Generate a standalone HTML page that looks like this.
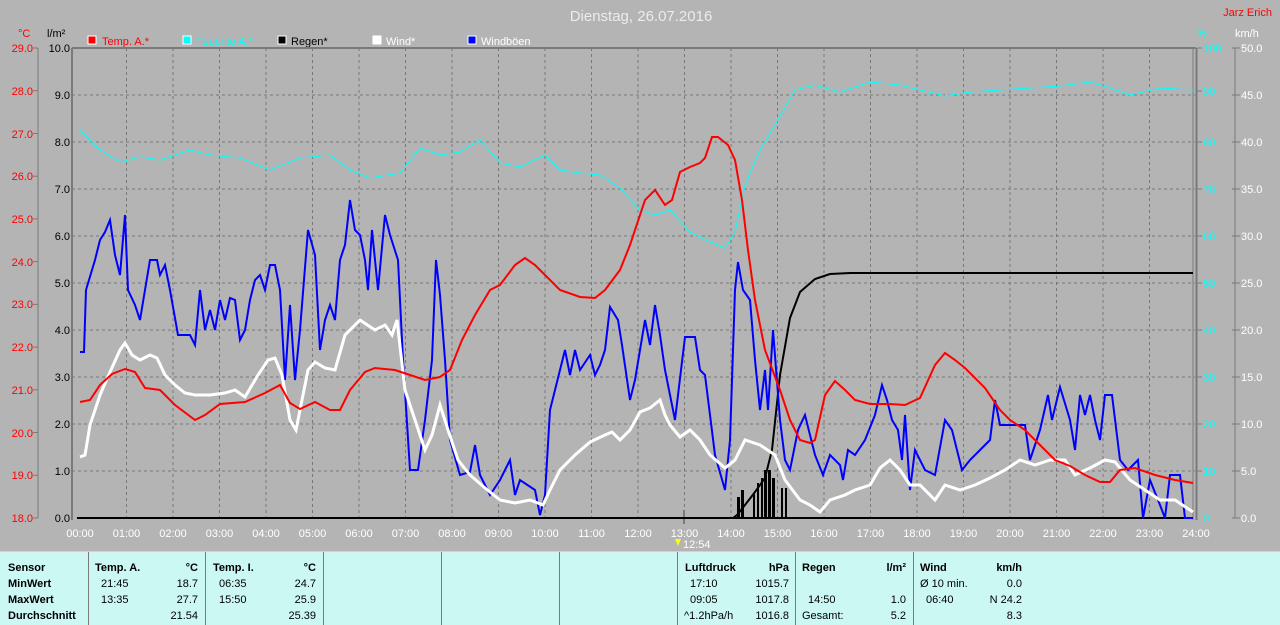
<!DOCTYPE html>
<html><head><meta charset="utf-8"><style>
body{margin:0;background:#b4b4b4;}
svg{display:block;font-family:"Liberation Sans",sans-serif;}
</style></head><body>
<svg width="1280" height="625" viewBox="0 0 1280 625" xmlns="http://www.w3.org/2000/svg">
<rect width="1280" height="625" fill="#b4b4b4"/>
<text x="641" y="21" font-size="15" fill="#ececec" text-anchor="middle">Dienstag, 26.07.2016</text>
<text x="1272" y="16" font-size="11" fill="#ff0000" text-anchor="end">Jarz Erich</text>
<!-- legend -->
<g font-size="11">
<rect x="88" y="36" width="8" height="8" fill="#f00" stroke="#fff"/><text x="102" y="45" fill="#f00">Temp. A.*</text>
<rect x="183" y="36" width="8" height="8" fill="#0ff" stroke="#fff"/><text x="196" y="45" fill="#0ff">Feuchte A.*</text>
<rect x="278" y="36" width="8" height="8" fill="#000" stroke="#fff"/><text x="291" y="45" fill="#000">Regen*</text>
<rect x="373" y="36" width="8" height="8" fill="#fff" stroke="#fff"/><text x="386" y="45" fill="#fff">Wind*</text>
<rect x="468" y="36" width="8" height="8" fill="#00f" stroke="#fff"/><text x="481" y="45" fill="#fff">Windböen</text>
</g>
<text x="18" y="37" font-size="11" fill="#f00">°C</text>
<text x="47" y="37" font-size="11" fill="#000">l/m²</text>
<text x="1197" y="37" font-size="11" fill="#0ff">%</text>
<text x="1235" y="37" font-size="11" fill="#fff">km/h</text>
<!-- grid -->
<g stroke="#777" stroke-dasharray="3,3" stroke-width="1">
<line x1="72" y1="95" x2="1195" y2="95"/><line x1="72" y1="142" x2="1195" y2="142"/><line x1="72" y1="189" x2="1195" y2="189"/><line x1="72" y1="236" x2="1195" y2="236"/><line x1="72" y1="283" x2="1195" y2="283"/><line x1="72" y1="330" x2="1195" y2="330"/><line x1="72" y1="377" x2="1195" y2="377"/><line x1="72" y1="424" x2="1195" y2="424"/><line x1="72" y1="471" x2="1195" y2="471"/>
<line x1="126.5" y1="48" x2="126.5" y2="518"/><line x1="173" y1="48" x2="173" y2="518"/><line x1="219.5" y1="48" x2="219.5" y2="518"/><line x1="266" y1="48" x2="266" y2="518"/><line x1="312.5" y1="48" x2="312.5" y2="518"/><line x1="359" y1="48" x2="359" y2="518"/><line x1="405.5" y1="48" x2="405.5" y2="518"/><line x1="452" y1="48" x2="452" y2="518"/><line x1="498.5" y1="48" x2="498.5" y2="518"/><line x1="545" y1="48" x2="545" y2="518"/><line x1="591.5" y1="48" x2="591.5" y2="518"/><line x1="638" y1="48" x2="638" y2="518"/><line x1="684.5" y1="48" x2="684.5" y2="518"/><line x1="731" y1="48" x2="731" y2="518"/><line x1="777.5" y1="48" x2="777.5" y2="518"/><line x1="824" y1="48" x2="824" y2="518"/><line x1="870.5" y1="48" x2="870.5" y2="518"/><line x1="917" y1="48" x2="917" y2="518"/><line x1="963.5" y1="48" x2="963.5" y2="518"/><line x1="1010" y1="48" x2="1010" y2="518"/><line x1="1056.5" y1="48" x2="1056.5" y2="518"/><line x1="1103" y1="48" x2="1103" y2="518"/><line x1="1149.5" y1="48" x2="1149.5" y2="518"/>
</g>
<!-- borders / axes -->
<g stroke="#7a7a7a" fill="none">
<line x1="72" y1="48" x2="1196" y2="48" stroke-width="2"/>
<line x1="72" y1="48" x2="72" y2="520" stroke-width="2"/>
<line x1="1193" y1="48" x2="1193" y2="520" stroke-width="1"/>
<line x1="1196.5" y1="48" x2="1196.5" y2="520" stroke-width="2"/>
<line x1="38" y1="48" x2="38" y2="518"/>
<line x1="1235" y1="48" x2="1235" y2="518"/>
</g>
<g stroke="#7a7a7a">
<line x1="33" y1="48" x2="38" y2="48"/><line x1="33" y1="90.7" x2="38" y2="90.7"/><line x1="33" y1="133.5" x2="38" y2="133.5"/><line x1="33" y1="176.2" x2="38" y2="176.2"/><line x1="33" y1="218.9" x2="38" y2="218.9"/><line x1="33" y1="261.6" x2="38" y2="261.6"/><line x1="33" y1="304.4" x2="38" y2="304.4"/><line x1="33" y1="347.1" x2="38" y2="347.1"/><line x1="33" y1="389.8" x2="38" y2="389.8"/><line x1="33" y1="432.5" x2="38" y2="432.5"/><line x1="33" y1="475.3" x2="38" y2="475.3"/><line x1="33" y1="518" x2="38" y2="518"/>
<line x1="1197" y1="48" x2="1202" y2="48"/><line x1="1197" y1="91" x2="1202" y2="91"/><line x1="1197" y1="142" x2="1202" y2="142"/><line x1="1197" y1="189" x2="1202" y2="189"/><line x1="1197" y1="236" x2="1202" y2="236"/><line x1="1197" y1="283" x2="1202" y2="283"/><line x1="1197" y1="330" x2="1202" y2="330"/><line x1="1197" y1="377" x2="1202" y2="377"/><line x1="1197" y1="424" x2="1202" y2="424"/><line x1="1197" y1="471" x2="1202" y2="471"/>
<line x1="1232" y1="48" x2="1240" y2="48"/><line x1="1232" y1="95" x2="1240" y2="95"/><line x1="1232" y1="142" x2="1240" y2="142"/><line x1="1232" y1="189" x2="1240" y2="189"/><line x1="1232" y1="236" x2="1240" y2="236"/><line x1="1232" y1="283" x2="1240" y2="283"/><line x1="1232" y1="330" x2="1240" y2="330"/><line x1="1232" y1="377" x2="1240" y2="377"/><line x1="1232" y1="424" x2="1240" y2="424"/><line x1="1232" y1="471" x2="1240" y2="471"/><line x1="1232" y1="518" x2="1240" y2="518"/>
</g>
<g font-size="11" fill="#f00" text-anchor="end">
<text x="33" y="52">29.0</text><text x="33" y="95">28.0</text><text x="33" y="138">27.0</text><text x="33" y="180">26.0</text><text x="33" y="223">25.0</text><text x="33" y="266">24.0</text><text x="33" y="308">23.0</text><text x="33" y="351">22.0</text><text x="33" y="394">21.0</text><text x="33" y="437">20.0</text><text x="33" y="479">19.0</text><text x="33" y="522">18.0</text>
</g>
<g font-size="11" fill="#000" text-anchor="end">
<text x="70" y="52">10.0</text><text x="70" y="99">9.0</text><text x="70" y="146">8.0</text><text x="70" y="193">7.0</text><text x="70" y="240">6.0</text><text x="70" y="287">5.0</text><text x="70" y="334">4.0</text><text x="70" y="381">3.0</text><text x="70" y="428">2.0</text><text x="70" y="475">1.0</text><text x="70" y="522">0.0</text>
</g>
<g font-size="11" fill="#0ff">
<text x="1203" y="52">100</text><text x="1203" y="95">90</text><text x="1203" y="146">80</text><text x="1203" y="193">70</text><text x="1203" y="240">60</text><text x="1203" y="287">50</text><text x="1203" y="334">40</text><text x="1203" y="381">30</text><text x="1203" y="428">20</text><text x="1203" y="475">10</text><text x="1203" y="522">0</text>
</g>
<g font-size="11" fill="#fff">
<text x="1241" y="52">50.0</text><text x="1241" y="99">45.0</text><text x="1241" y="146">40.0</text><text x="1241" y="193">35.0</text><text x="1241" y="240">30.0</text><text x="1241" y="287">25.0</text><text x="1241" y="334">20.0</text><text x="1241" y="381">15.0</text><text x="1241" y="428">10.0</text><text x="1241" y="475">5.0</text><text x="1241" y="522">0.0</text>
</g>
<g font-size="11" fill="#fff" text-anchor="middle">
<text x="80" y="537">00:00</text><text x="126.5" y="537">01:00</text><text x="173" y="537">02:00</text><text x="219.5" y="537">03:00</text><text x="266" y="537">04:00</text><text x="312.5" y="537">05:00</text><text x="359" y="537">06:00</text><text x="405.5" y="537">07:00</text><text x="452" y="537">08:00</text><text x="498.5" y="537">09:00</text><text x="545" y="537">10:00</text><text x="591.5" y="537">11:00</text><text x="638" y="537">12:00</text><text x="684.5" y="537">13:00</text><text x="731" y="537">14:00</text><text x="777.5" y="537">15:00</text><text x="824" y="537">16:00</text><text x="870.5" y="537">17:00</text><text x="917" y="537">18:00</text><text x="963.5" y="537">19:00</text><text x="1010" y="537">20:00</text><text x="1056.5" y="537">21:00</text><text x="1103" y="537">22:00</text><text x="1149.5" y="537">23:00</text><text x="1196" y="537">24:00</text>
</g>
<line x1="684" y1="510" x2="684" y2="524" stroke="#7a7a7a" stroke-width="2"/>
<polygon points="675,539 681,539 678,546" fill="#ff0"/>
<text x="683" y="548" font-size="11" fill="#fff">12:54</text>
<!-- zero line -->
<line x1="77" y1="518" x2="1193" y2="518" stroke="#000" stroke-width="2"/>
<!-- humidity -->
<polyline fill="none" stroke="#0ff" stroke-width="1" points="80,130 100,150 120,162 140,157 160,160 190,150 210,155 240,158 270,170 300,158 330,155 350,170 370,178 400,173 420,148 440,155 460,152 480,140 500,163 520,167 545,155 560,170 580,173 600,175 620,188 640,210 655,215 670,210 690,232 710,242 725,248 735,232 745,185 760,150 775,125 795,90 815,85 840,92 870,82 900,85 945,96 970,92 1000,90 1030,88 1060,86 1090,82 1110,88 1130,95 1160,88 1193,90"/>
<!-- rain bars -->
<g fill="#000">
<rect x="737" y="497" width="3" height="21"/><rect x="741" y="490" width="3" height="28"/><rect x="753" y="493" width="2" height="25"/><rect x="757" y="483" width="2" height="35"/><rect x="761" y="478" width="2" height="40"/><rect x="764" y="470" width="3" height="48"/><rect x="768" y="470" width="3" height="48"/><rect x="772" y="478" width="3" height="40"/><rect x="781" y="488" width="2" height="30"/><rect x="785" y="488" width="2" height="30"/>
</g>
<polyline fill="none" stroke="#000" stroke-width="2" points="80,518 733,518 737,515 745,505 755,492 765,478 772,450 780,375 790,318 800,292 815,279 830,274 850,273 1193,273"/>
<!-- gusts -->
<polyline fill="none" stroke="#00f" stroke-width="2" points="80,352 84,352 86,290 95,260 100,240 105,232 110,220 115,255 120,275 125,215 128,290 135,305 140,320 145,290 150,260 157,260 160,275 165,265 170,290 178,335 190,335 195,345 200,290 205,330 210,310 215,330 220,300 225,320 230,298 235,300 240,340 245,330 250,300 255,280 260,275 265,290 270,265 275,265 280,290 285,380 290,305 295,380 300,330 308,230 315,255 320,350 325,320 330,305 335,320 340,260 345,245 350,200 355,230 360,235 365,260 368,290 372,230 378,290 385,215 390,235 398,260 403,360 410,470 418,470 425,420 432,360 436,260 440,295 445,360 450,440 460,475 470,472 475,445 480,475 490,495 500,480 510,460 515,495 520,480 535,490 540,515 545,495 550,410 560,370 565,350 570,375 575,350 580,370 590,355 595,375 600,365 605,350 610,307 618,320 622,345 630,400 635,380 645,320 650,345 655,305 660,335 665,370 675,420 685,337 695,337 700,370 705,375 710,415 715,455 725,490 730,440 735,290 738,262 743,290 750,300 755,360 760,410 765,370 768,410 773,330 780,420 785,460 790,470 798,430 805,415 815,455 823,475 830,455 840,465 843,480 848,450 855,455 865,440 875,415 882,385 887,400 892,420 898,430 902,460 905,415 910,490 915,450 925,470 935,475 945,420 952,430 962,470 970,460 980,450 990,440 995,400 1000,425 1010,425 1025,425 1030,460 1040,430 1048,395 1052,420 1060,387 1070,420 1075,450 1080,395 1085,415 1090,395 1095,420 1100,440 1105,395 1112,395 1120,460 1128,470 1138,460 1143,518 1150,480 1160,505 1165,518 1170,475 1180,475 1185,518 1193,518"/>
<!-- wind -->
<polyline fill="none" stroke="#fff" stroke-width="3" points="80,457 85,455 90,425 100,395 110,372 120,350 125,343 132,355 140,360 150,355 157,358 165,375 175,385 185,393 195,395 210,395 225,393 235,390 245,397 258,375 268,360 275,358 282,375 290,420 296,430 300,410 308,370 315,362 325,368 335,370 345,335 360,320 375,330 385,325 392,335 397,320 405,390 415,420 425,450 432,435 440,405 448,430 458,460 470,475 485,488 500,500 515,503 530,500 543,505 550,490 560,470 575,455 590,442 605,435 612,432 620,440 630,430 640,412 650,408 660,400 665,415 670,425 680,437 690,430 700,440 710,455 725,468 735,460 745,440 760,445 775,455 785,480 800,500 810,505 820,512 830,500 845,495 855,490 870,485 880,468 890,460 900,470 910,485 920,485 935,500 945,485 960,490 975,485 990,478 1005,470 1020,460 1035,465 1050,460 1065,460 1075,475 1090,468 1105,460 1115,462 1130,480 1145,490 1160,500 1175,500 1193,512"/>
<!-- temp -->
<polyline fill="none" stroke="#f00" stroke-width="2" points="80,402 90,400 100,385 112,374 125,369 135,372 145,388 160,390 175,405 195,420 205,415 220,404 245,402 265,393 280,385 290,403 300,409 315,402 330,410 340,410 350,390 365,372 375,368 395,370 410,375 425,380 440,377 450,370 462,340 475,315 490,290 500,285 515,265 525,258 535,265 545,275 560,290 580,297 595,298 605,290 620,270 630,245 645,200 655,190 665,205 672,200 680,172 690,167 700,163 705,158 712,137 718,137 728,145 735,160 742,200 748,250 755,300 765,350 780,390 790,420 800,440 810,443 815,440 825,395 835,381 845,390 855,400 870,404 890,404 905,405 920,398 935,365 945,353 955,360 965,368 975,378 985,388 1000,410 1010,420 1025,430 1040,445 1055,460 1070,466 1085,475 1100,482 1110,482 1120,470 1135,468 1155,475 1175,480 1193,483"/>
<!-- table -->
<rect x="0" y="552" width="1280" height="73" fill="#ccf8f4"/>
<line x1="0" y1="552" x2="1280" y2="552" stroke="#eee" stroke-width="1"/>
<g stroke="#7a7a7a" stroke-width="1">
<line x1="88.5" y1="552" x2="88.5" y2="625"/><line x1="205.5" y1="552" x2="205.5" y2="625"/><line x1="323.5" y1="552" x2="323.5" y2="625"/><line x1="441.5" y1="552" x2="441.5" y2="625"/><line x1="559.5" y1="552" x2="559.5" y2="625"/><line x1="677.5" y1="552" x2="677.5" y2="625"/><line x1="795.5" y1="552" x2="795.5" y2="625"/><line x1="913.5" y1="552" x2="913.5" y2="625"/>
</g>
<g font-size="11" fill="#000">
<g font-weight="bold"><text x="8" y="571">Sensor</text><text x="8" y="587">MinWert</text><text x="8" y="603">MaxWert</text><text x="8" y="619">Durchschnitt</text>
<text x="95" y="571">Temp. A.</text><text x="213" y="571">Temp. I.</text><text x="685" y="571">Luftdruck</text><text x="802" y="571">Regen</text><text x="920" y="571">Wind</text></g>
<g text-anchor="end" font-weight="bold"><text x="198" y="571">°C</text><text x="316" y="571">°C</text><text x="789" y="571">hPa</text><text x="906" y="571">l/m²</text><text x="1022" y="571">km/h</text></g>
<text x="101" y="587">21:45</text><text x="101" y="603">13:35</text><text x="219" y="587">06:35</text><text x="219" y="603">15:50</text>
<g text-anchor="end"><text x="198" y="587">18.7</text><text x="198" y="603">27.7</text><text x="198" y="619">21.54</text><text x="316" y="587">24.7</text><text x="316" y="603">25.9</text><text x="316" y="619">25.39</text>
<text x="789" y="587">1015.7</text><text x="789" y="603">1017.8</text><text x="789" y="619">1016.8</text><text x="906" y="603">1.0</text><text x="906" y="619">5.2</text><text x="1022" y="587">0.0</text><text x="1022" y="603">N 24.2</text><text x="1022" y="619">8.3</text></g>
<text x="690" y="587">17:10</text><text x="690" y="603">09:05</text><text x="684" y="619">^1.2hPa/h</text>
<text x="808" y="603">14:50</text><text x="802" y="619">Gesamt:</text>
<text x="920" y="587">Ø 10 min.</text><text x="926" y="603">06:40</text>
</g>
</svg>
</body></html>
